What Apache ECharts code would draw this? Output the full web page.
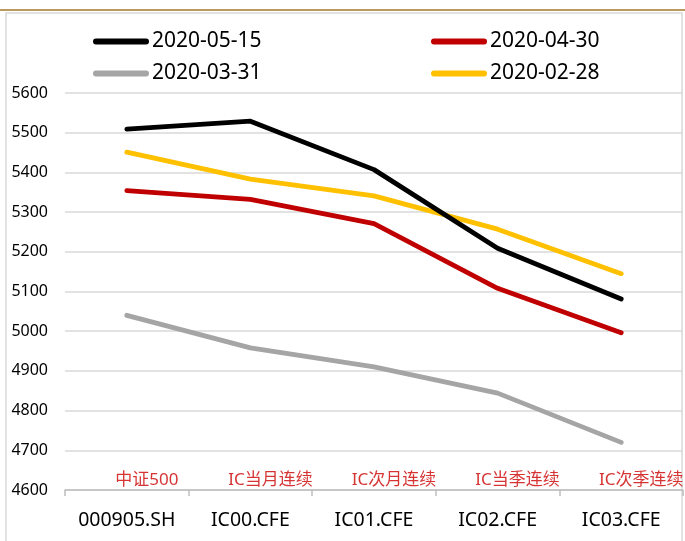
<!DOCTYPE html>
<html>
<head>
<meta charset="utf-8">
<script src="https://cdn.jsdelivr.net/npm/echarts@6/dist/echarts.min.js"></script>
<style>
    html, body { margin: 0; padding: 0; background: #fff; }
    #chart { width: 685px; height: 541px; }
</style>
</head>
<body>
<div id="chart"></div>
<script>
// 数据
const categories = ['000905.SH', 'IC00.CFE', 'IC01.CFE', 'IC02.CFE', 'IC03.CFE']
const nameLabels = ['中证500', 'IC当月连续', 'IC次月连续', 'IC当季连续', 'IC次季连续']
const seriesNames = ['2020-05-15', '2020-04-30', '2020-03-31', '2020-02-28']
const d0515 = [5509, 5529, 5407, 5209, 5081]
const d0430 = [5354, 5332, 5271, 5108, 4996]
const d0331 = [5040, 4958, 4910, 4844, 4720]
const d0228 = [5451, 5383, 5341, 5257, 5145]
const yTicks = [4600, 4700, 4800, 4900, 5000, 5100, 5200, 5300, 5400, 5500, 5600]

const colors = ['#000000', '#c00000', '#a5a5a5', '#ffc000']
const font = '"Noto Sans", "Noto Sans CJK SC", sans-serif'

const chart = echarts.init(document.getElementById('chart'))

const legendIcon = 'path://M3,0 L53,0 A3,3 0 0 1 53,6 L3,6 A3,3 0 0 1 3,0 Z'
const legendPos = [[93, 31], [431, 31], [93, 63], [431, 63]]
const legends = seriesNames.map((n, i) => ({
    data: [n],
    left: legendPos[i][0],
    top: legendPos[i][1],
    padding: 0,
    icon: legendIcon,
    itemWidth: 56,
    itemHeight: 6,
    selectedMode: false,
    textStyle: { fontFamily: font, fontSize: 21, color: '#000', padding: [0, 0, 0, -2] }
}))

const lineSeries = [d0515, d0430, d0331, d0228].map((d, i) => ({
    name: seriesNames[i],
    type: 'line',
    data: d,
    symbol: 'none',
    color: colors[i],
    lineStyle: { width: 4.8, color: colors[i], cap: 'round', join: 'round' },
    z: 10 - i
}))

const option = {
    animation: false,
    backgroundColor: '#fff',
    textStyle: { fontFamily: font },
    legend: legends,
    grid: { left: 65, right: 2, top: 93, bottom: 51 },
    xAxis: {
        type: 'category',
        data: categories,
        boundaryGap: true,
        axisLine: { lineStyle: { color: '#bfbfbf', width: 1.5 } },
        axisTick: { show: true, interval: 0, length: 6, lineStyle: { color: '#bfbfbf', width: 1.5 } },
        axisLabel: { interval: 0, fontFamily: font, fontSize: 19.5, color: '#000', margin: 21 }
    },
    yAxis: {
        type: 'value',
        min: yTicks[0],
        max: yTicks[yTicks.length - 1],
        interval: 100,
        axisLine: { show: false },
        axisTick: { show: false },
        splitLine: { lineStyle: { color: '#d9d9d9', width: 1.5 } },
        axisLabel: { formatter: v => String(v), fontFamily: font, fontSize: 16, color: '#000', margin: 17 }
    },
    series: [
        ...lineSeries,
        {
            type: 'scatter',
            data: nameLabels.map(() => yTicks[0]),
            symbolSize: 0,
            silent: true,
            label: {
                show: true,
                position: 'top',
                distance: 1,
                offset: [20, 0],
                formatter: p => nameLabels[p.dataIndex],
                fontFamily: font,
                fontSize: 17,
                color: '#cc0000'
            }
        }
    ],
    graphic: [
        {
            type: 'rect',
            shape: { x: 6, y: 13, width: 676, height: 540 },
            style: { fill: 'none', stroke: '#d9d9d9', lineWidth: 1.5 },
            silent: true
        },
        {
            type: 'line',
            shape: { x1: 0, y1: 10, x2: 685, y2: 10 },
            style: { stroke: '#b99a5e', lineWidth: 2 },
            silent: true
        }
    ]
}

chart.setOption(option)
</script>
</body>
</html>
